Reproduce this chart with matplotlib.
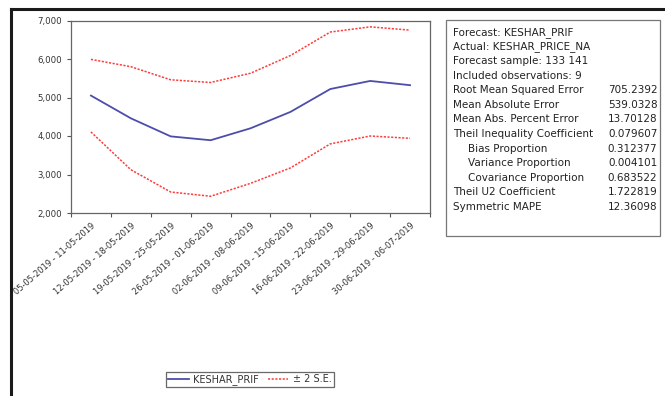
import matplotlib
matplotlib.use("Agg")
import matplotlib.pyplot as plt
from matplotlib.lines import Line2D
from matplotlib.patches import Rectangle

plt.rcParams['font.family'] = ['DejaVu Sans']

W, H = 665, 396

periods = [
    "05-05-2019 - 11-05-2019", "12-05-2019 - 18-05-2019", "19-05-2019 - 25-05-2019",
    "26-05-2019 - 01-06-2019", "02-06-2019 - 08-06-2019", "09-06-2019 - 15-06-2019",
    "16-06-2019 - 22-06-2019", "23-06-2019 - 29-06-2019", "30-06-2019 - 06-07-2019",
]
forecast = [5050, 4460, 3990, 3890, 4200, 4625, 5220, 5430, 5320]
upper = [5990, 5800, 5460, 5390, 5630, 6090, 6700, 6835, 6750]
lower = [4105, 3125, 2545, 2435, 2770, 3170, 3795, 4000, 3940]

stat_names = [
    "Root Mean Squared Error", "Mean Absolute Error", "Mean Abs. Percent Error",
    "Theil Inequality Coefficient", "Bias Proportion", "Variance Proportion",
    "Covariance Proportion", "Theil U2 Coefficient", "Symmetric MAPE",
]
stat_values = ["705.2392", "539.0328", "13.70128", "0.079607", "0.312377",
               "0.004101", "0.683522", "1.722819", "12.36098"]
indented = {"Bias Proportion", "Variance Proportion", "Covariance Proportion"}
header_lines = [
    "Forecast: KESHAR_PRIF", "Actual: KESHAR_PRICE_NA",
    "Forecast sample: 133 141", "Included observations: 9",
]


def fx(x):
    return x / W


def fy(y):
    return 1 - y / H


fig = plt.figure(figsize=(W / 100, H / 100), dpi=100)

# outer window frame (top and left edges)
fig.add_artist(Line2D([fx(11), fx(W + 5)], [fy(8.5), fy(8.5)], color='#1a1a1a', lw=2.2))
fig.add_artist(Line2D([fx(11), fx(11)], [fy(8.5), fy(H + 5)], color='#1a1a1a', lw=2.2))

ax = fig.add_axes([fx(71), fy(213), fx(430) - fx(71), fy(20.5) - fy(213)])
x = list(range(len(periods)))
ax.plot(x, forecast, color='#4d4dab', lw=1.3, label='KESHAR_PRIF')
ax.plot(x, upper, color='#ff3b3b', lw=1.1, ls=(0, (1.4, 1.0)), label='± 2 S.E.')
ax.plot(x, lower, color='#ff3b3b', lw=1.1, ls=(0, (1.4, 1.0)))

ax.set_xlim(-0.5, len(periods) - 0.5)
ax.set_ylim(2000, 7000)
ax.set_yticks([2000, 3000, 4000, 5000, 6000, 7000])
ax.set_yticklabels(['2,000', '3,000', '4,000', '5,000', '6,000', '7,000'])

# tick marks at period boundaries, labels at period centres
ax.set_xticks([i - 0.5 for i in range(len(periods) + 1)])
ax.set_xticklabels([])
ax.set_xticks(x, minor=True)
ax.set_xticklabels(periods, minor=True, rotation=41, ha='right',
                   rotation_mode='anchor', fontsize=6.0, color='#333333')
ax.tick_params(axis='x', which='minor', length=0, pad=6)
ax.tick_params(axis='both', which='major', direction='out', length=3,
               width=0.8, color='#555555', labelsize=6.2, labelcolor='#333333')
for s in ax.spines.values():
    s.set_color('#666666')
    s.set_linewidth(0.9)

leg = fig.legend(loc='center', bbox_to_anchor=(fx(250), fy(379.5)), ncol=2,
                 fontsize=7, frameon=True, fancybox=False, handlelength=2.1,
                 handletextpad=0.5, columnspacing=0.9, borderpad=0.2)
leg.get_frame().set_edgecolor('#444444')
leg.get_frame().set_linewidth(0.9)
for t in leg.get_texts():
    t.set_color('#333333')

# forecast evaluation table
fig.add_artist(Rectangle((fx(446), fy(236)), fx(660) - fx(446), fy(20) - fy(236),
                         transform=fig.transFigure, fill=False,
                         edgecolor='#777777', lw=0.9))
row_y = 32.3
step = 14.53
for line in header_lines:
    fig.text(fx(453), fy(row_y), line, fontsize=7.5, color='#222222', va='center')
    row_y += step
for name, val in zip(stat_names, stat_values):
    left = 468 if name in indented else 453
    fig.text(fx(left), fy(row_y), name, fontsize=7.5, color='#222222', va='center')
    fig.text(fx(657.5), fy(row_y), val, fontsize=7.5, color='#222222',
             va='center', ha='right')
    row_y += step

fig.savefig('out.png', dpi=100)
